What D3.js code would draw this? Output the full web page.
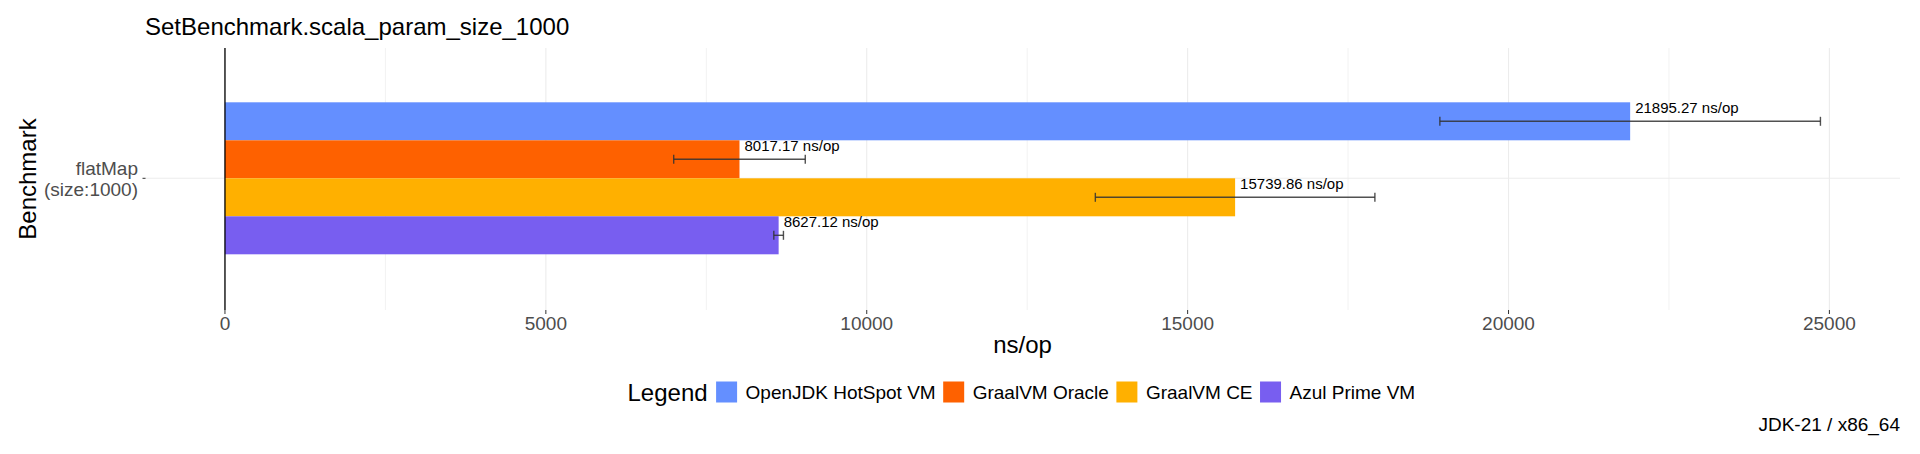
<!DOCTYPE html>
<html>
<head>
<meta charset="utf-8">
<script src="https://cdn.jsdelivr.net/npm/d3@7/dist/d3.min.js"></script>
<style>
  html, body { margin: 0; padding: 0; background: #fff; }
  svg { display: block; font-family: "Liberation Sans", Arial, sans-serif; }
</style>
</head>
<body>
<svg id="chart" width="1920" height="454"></svg>
<script>
// ---- data ----
const title = "SetBenchmark.scala_param_size_1000";
const caption = "JDK-21 / x86_64";
const categories = ["flatMap\n(size:1000)"];
const series = ["OpenJDK HotSpot VM", "GraalVM Oracle", "GraalVM CE", "Azul Prime VM"];
const colors = ["#648FFF", "#FE6100", "#FFB000", "#785EF0"];
const values = [21895.27, 8017.17, 15739.86, 8627.12];
const errors = [2965, 1025, 2178, 75];
const xTicks = [0, 5000, 10000, 15000, 20000, 25000];
const xMinorTicks = [2500, 7500, 12500, 17500, 22500];
const xDomain = [-1246, 26100];
const xTitle = "ns/op";
const yTitle = "Benchmark";
const legendTitle = "Legend";

// ---- layout ----
const svg = d3.select("#chart");
const panel = { left: 145, right: 1900, top: 48, bottom: 310 };

const x = d3.scaleLinear().domain(xDomain).range([panel.left, panel.right]);
const bandTotal = 152;
const pOuter = ((panel.bottom - panel.top) / bandTotal - 1) / 2;
const y = d3.scaleBand().domain(categories).range([panel.top - 0.7, panel.bottom - 0.7]).paddingInner(0).paddingOuter(pOuter);
const ySub = d3.scaleBand().domain(series).range([0, y.bandwidth()]);

const grid = svg.append("g");
// minor vertical gridlines
grid.selectAll("line.minor").data(xMinorTicks).enter().append("line")
  .attr("x1", d => x(d)).attr("x2", d => x(d))
  .attr("y1", panel.top).attr("y2", panel.bottom)
  .attr("stroke", "#f2f2f2").attr("stroke-width", 1);
// major vertical gridlines
grid.selectAll("line.major").data(xTicks).enter().append("line")
  .attr("x1", d => x(d)).attr("x2", d => x(d))
  .attr("y1", panel.top).attr("y2", panel.bottom)
  .attr("stroke", "#ececec").attr("stroke-width", 1.1);
// horizontal gridline
grid.selectAll("line.h").data(categories).enter().append("line")
  .attr("x1", panel.left).attr("x2", panel.right)
  .attr("y1", d => y(d) + y.bandwidth() / 2).attr("y2", d => y(d) + y.bandwidth() / 2)
  .attr("stroke", "#ececec").attr("stroke-width", 1.1);

// bars
const rows = series.map((s, i) => ({ s, v: values[i], e: errors[i], c: colors[i], cat: categories[0] }));
const gBars = svg.append("g");
gBars.selectAll("rect").data(rows).enter().append("rect")
  .attr("x", x(0))
  .attr("y", d => y(d.cat) + ySub(d.s))
  .attr("width", d => x(d.v) - x(0))
  .attr("height", ySub.bandwidth())
  .attr("fill", d => d.c);

// vertical line at 0
svg.append("line")
  .attr("x1", x(0)).attr("x2", x(0))
  .attr("y1", panel.top).attr("y2", panel.bottom)
  .attr("stroke", "#000").attr("stroke-width", 1.3);

// error bars
const gErr = svg.append("g").attr("stroke", "#333").attr("stroke-opacity", 0.85).attr("stroke-width", 1.4);
rows.forEach(d => {
  const cy = y(d.cat) + ySub(d.s) + ySub.bandwidth() / 2;
  const x1 = x(d.v - d.e), x2 = x(d.v + d.e);
  gErr.append("line").attr("x1", x1).attr("x2", x2).attr("y1", cy).attr("y2", cy);
  gErr.append("line").attr("x1", x1).attr("x2", x1).attr("y1", cy - 4.5).attr("y2", cy + 4.5);
  gErr.append("line").attr("x1", x2).attr("x2", x2).attr("y1", cy - 4.5).attr("y2", cy + 4.5);
});

// value labels
svg.append("g").selectAll("text").data(rows).enter().append("text")
  .attr("x", d => x(d.v) + 5)
  .attr("y", d => y(d.cat) + ySub(d.s) + ySub.bandwidth() / 2 - 8)
  .attr("font-size", 15)
  .attr("fill", "#000")
  .text(d => d.v.toFixed(2) + " ns/op");

// x axis ticks and labels
const gx = svg.append("g");
gx.selectAll("line").data(xTicks).enter().append("line")
  .attr("x1", d => x(d)).attr("x2", d => x(d))
  .attr("y1", panel.bottom).attr("y2", panel.bottom + 4)
  .attr("stroke", "#333").attr("stroke-width", 1);
gx.selectAll("text").data(xTicks).enter().append("text")
  .attr("x", d => x(d)).attr("y", 329.5)
  .attr("text-anchor", "middle").attr("font-size", 19).attr("fill", "#4d4d4d")
  .text(d => d);

// y axis tick and labels
const gy = svg.append("g");
categories.forEach(c => {
  const cy = y(c) + y.bandwidth() / 2;
  gy.append("line").attr("x1", panel.left - 2.5).attr("x2", panel.left + 0.5)
    .attr("y1", cy).attr("y2", cy).attr("stroke", "#333").attr("stroke-width", 1);
  const lines = c.split("\n");
  const t = gy.append("text").attr("text-anchor", "end").attr("font-size", 19).attr("fill", "#4d4d4d");
  lines.forEach((ln, i) => {
    t.append("tspan").attr("x", panel.left - 7)
      .attr("y", cy + 7 + (i - (lines.length - 1) / 2) * 21)
      .text(ln);
  });
});

// axis titles
svg.append("text").attr("x", (panel.left + panel.right) / 2).attr("y", 353)
  .attr("text-anchor", "middle").attr("font-size", 24).attr("fill", "#000").text(xTitle);
svg.append("text").attr("transform", `translate(36,${(panel.top + panel.bottom) / 2}) rotate(-90)`)
  .attr("text-anchor", "middle").attr("font-size", 24).attr("fill", "#000").text(yTitle);

// title
svg.append("text").attr("x", panel.left).attr("y", 35)
  .attr("font-size", 24).attr("fill", "#000").text(title);

// caption
svg.append("text").attr("x", panel.right).attr("y", 431)
  .attr("text-anchor", "end").attr("font-size", 19).attr("fill", "#000").text(caption);

// legend
const gL = svg.append("g");
const legCy = 392;
let lx = 627.5;
const lt = gL.append("text").attr("x", lx).attr("y", legCy + 8.5).attr("font-size", 24).attr("fill", "#000").text(legendTitle);
lx += lt.node().getComputedTextLength() + 8.5;
series.forEach((s, i) => {
  gL.append("rect").attr("x", lx).attr("y", legCy - 10.5).attr("width", 21).attr("height", 21).attr("fill", colors[i]);
  lx += 21 + 8.5;
  const t = gL.append("text").attr("x", lx).attr("y", legCy + 6.8).attr("font-size", 19).attr("fill", "#000").text(s);
  lx += t.node().getComputedTextLength() + 7.5;
});
</script>
</body>
</html>
